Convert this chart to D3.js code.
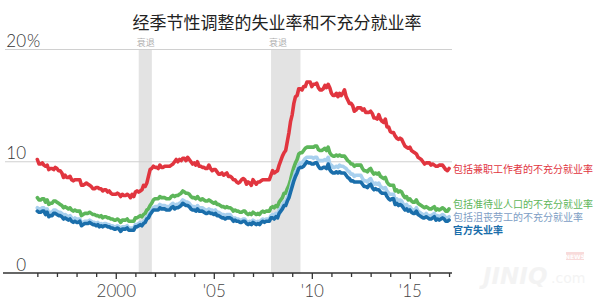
<!DOCTYPE html>
<html>
<head>
<meta charset="utf-8">
<script src="https://cdn.jsdelivr.net/npm/d3@7"></script>
<style>
  body { margin: 0; background: #fff; }
  svg { display: block; }
</style>
</head>
<body>
<script>
const width = 600;
const height = 308;

// monthly, Jan 1996 .. Jan 2017 (percent)
const startYear = 1996;

const u6 = [
  10.2,9.8,9.8,9.9,9.7,9.6,9.7,9.3,9.4,9.4,9.3,9.5,
  9.4,9.2,9.2,9.0,8.6,8.8,8.6,8.6,8.7,8.4,8.3,8.4,
  8.4,8.4,8.4,7.9,7.9,8.0,8.1,8.0,7.9,7.8,7.6,7.6,
  7.7,7.7,7.6,7.6,7.4,7.5,7.5,7.3,7.4,7.2,7.1,7.1,
  7.1,7.2,7.1,6.9,7.1,7.0,7.0,7.1,7.0,6.8,7.1,6.9,
  7.3,7.4,7.3,7.4,7.5,7.9,7.8,8.1,8.7,9.3,9.4,9.6,
  9.5,9.5,9.4,9.7,9.5,9.5,9.6,9.6,9.6,9.6,9.7,9.8,
  10.0,10.2,10.0,10.2,10.1,10.3,10.3,10.1,10.4,10.2,10.0,9.8,
  9.9,9.7,10.0,9.6,9.6,9.5,9.5,9.4,9.4,9.7,9.4,9.2,
  9.3,9.3,9.1,8.9,8.9,9.0,8.8,8.9,9.0,8.7,8.7,8.6,
  8.4,8.4,8.2,8.1,8.2,8.4,8.5,8.4,8.0,8.2,8.1,7.9,
  8.4,8.2,8.0,8.2,8.2,8.3,8.4,8.4,8.4,8.4,8.4,8.8,
  9.2,9.0,9.1,9.2,9.7,10.1,10.5,10.8,11.0,11.8,12.6,13.6,
  14.2,15.2,15.8,15.9,16.5,16.5,16.4,16.7,16.7,17.1,17.1,17.1,
  16.7,16.9,16.9,17.0,16.6,16.4,16.4,16.5,16.8,16.6,16.9,16.6,
  16.1,15.9,15.9,16.1,15.8,16.1,15.9,16.1,16.4,15.8,15.5,15.2,
  15.2,15.0,14.5,14.6,14.8,14.8,14.8,14.6,14.7,14.4,14.4,14.4,
  14.5,14.3,13.9,13.9,13.8,14.2,13.8,13.6,13.5,13.8,13.1,13.1,
  12.7,12.6,12.6,12.3,12.1,12.0,12.1,12.0,11.7,11.4,11.3,11.2,
  11.3,11.0,10.9,10.8,10.7,10.4,10.3,10.2,10.0,9.8,9.9,9.9,
  9.9,9.7,9.8,9.7,9.6,9.6,9.7,9.7,9.7,9.5,9.3,9.2,
  9.4
];

const u5 = [
  6.8,6.6,6.6,6.7,6.7,6.4,6.6,6.2,6.3,6.3,6.5,6.5,
  6.4,6.3,6.2,6.1,5.9,6.0,5.9,5.8,5.9,5.7,5.6,5.7,
  5.6,5.6,5.6,5.2,5.3,5.4,5.4,5.4,5.5,5.4,5.3,5.3,
  5.2,5.2,5.1,5.2,5.0,5.1,5.1,5.0,5.0,4.9,4.9,4.8,
  4.8,4.9,4.8,4.6,4.8,4.8,4.8,4.9,4.7,4.7,4.7,4.7,
  5.0,5.0,5.1,5.2,5.1,5.3,5.4,5.7,5.8,6.1,6.3,6.6,
  6.7,6.7,6.7,6.9,6.8,6.8,6.8,6.7,6.7,6.7,6.9,7.0,
  6.9,7.0,7.0,7.1,7.2,7.4,7.3,7.2,7.2,7.1,6.9,6.8,
  6.8,6.7,6.9,6.7,6.6,6.7,6.6,6.5,6.5,6.6,6.5,6.4,
  6.3,6.4,6.2,6.2,6.1,6.0,6.0,5.9,6.0,5.9,5.9,5.8,
  5.6,5.7,5.6,5.6,5.5,5.5,5.6,5.6,5.4,5.3,5.4,5.3,
  5.5,5.4,5.3,5.4,5.3,5.5,5.6,5.5,5.6,5.6,5.6,5.9,
  6.0,5.9,6.1,6.0,6.4,6.6,6.8,7.2,7.2,7.6,7.9,8.4,
  9.0,9.5,9.9,10.2,10.7,10.8,10.8,11.0,11.2,11.3,11.3,11.3,
  11.3,11.3,11.4,11.4,11.1,11.0,11.0,11.1,11.2,11.0,11.3,10.8,
  10.6,10.5,10.5,10.6,10.5,10.6,10.5,10.5,10.5,10.3,10.1,10.0,
  9.8,9.8,9.6,9.7,9.7,9.7,9.7,9.4,9.2,9.2,9.1,9.3,
  9.4,9.1,8.9,9.0,8.9,9.0,8.7,8.6,8.5,8.6,8.2,8.0,
  7.9,7.9,7.9,7.4,7.5,7.3,7.4,7.3,7.0,6.8,6.9,6.6,
  6.7,6.5,6.4,6.4,6.6,6.3,6.2,6.1,6.0,5.9,6.0,5.9,
  5.8,5.8,5.9,6.0,5.7,5.8,5.7,5.8,5.9,5.8,5.6,5.6,
  5.8
];

const u4 = [
  5.9,5.8,5.8,5.9,5.9,5.6,5.8,5.4,5.5,5.5,5.7,5.7,
  5.6,5.5,5.5,5.4,5.2,5.3,5.2,5.1,5.2,5.0,4.9,5.0,
  4.9,4.9,4.9,4.5,4.6,4.7,4.7,4.7,4.8,4.7,4.6,4.6,
  4.5,4.6,4.4,4.5,4.4,4.5,4.5,4.4,4.4,4.3,4.3,4.2,
  4.2,4.3,4.2,4.0,4.2,4.2,4.2,4.3,4.1,4.1,4.1,4.1,
  4.4,4.4,4.5,4.6,4.5,4.7,4.8,5.1,5.2,5.5,5.7,5.9,
  6.0,6.0,6.0,6.2,6.1,6.1,6.1,6.0,6.0,6.0,6.2,6.3,
  6.1,6.2,6.2,6.3,6.4,6.6,6.5,6.4,6.4,6.3,6.1,6.0,
  6.0,5.9,6.1,5.9,5.9,5.9,5.8,5.7,5.7,5.8,5.7,5.7,
  5.6,5.7,5.5,5.5,5.4,5.3,5.3,5.2,5.3,5.3,5.3,5.1,
  4.9,5.0,4.9,4.9,4.8,4.8,4.9,4.9,4.7,4.6,4.7,4.6,
  4.8,4.7,4.6,4.7,4.6,4.8,4.9,4.8,4.9,4.9,4.9,5.2,
  5.3,5.2,5.4,5.3,5.7,5.9,6.1,6.4,6.4,6.8,7.1,7.6,
  8.2,8.6,9.1,9.3,9.7,9.9,9.9,10.1,10.3,10.4,10.4,10.4,
  10.4,10.3,10.4,10.4,10.1,10.1,10.1,10.1,10.2,10.1,10.4,9.8,
  9.7,9.5,9.5,9.6,9.5,9.7,9.6,9.6,9.5,9.4,9.2,9.1,
  8.9,8.9,8.7,8.8,8.8,8.8,8.8,8.5,8.3,8.3,8.2,8.4,
  8.5,8.2,8.0,8.1,8.0,8.1,7.8,7.7,7.6,7.7,7.4,7.2,
  7.1,7.1,7.1,6.6,6.7,6.5,6.6,6.5,6.2,6.1,6.2,5.9,
  6.0,5.8,5.7,5.7,5.9,5.6,5.5,5.4,5.3,5.2,5.4,5.2,
  5.2,5.2,5.3,5.4,5.1,5.2,5.1,5.2,5.3,5.2,5.0,5.0,
  5.1
];

const u3 = [
  5.6,5.5,5.5,5.6,5.6,5.3,5.5,5.1,5.2,5.2,5.4,5.4,
  5.3,5.2,5.2,5.1,4.9,5.0,4.9,4.8,4.9,4.7,4.6,4.7,
  4.6,4.6,4.7,4.3,4.4,4.5,4.5,4.5,4.6,4.5,4.4,4.4,
  4.3,4.4,4.2,4.3,4.2,4.3,4.3,4.2,4.2,4.1,4.1,4.0,
  4.0,4.1,4.0,3.8,4.0,4.0,4.0,4.1,3.9,3.9,3.9,3.9,
  4.2,4.2,4.3,4.4,4.3,4.5,4.6,4.9,5.0,5.3,5.5,5.7,
  5.7,5.7,5.7,5.9,5.8,5.8,5.8,5.7,5.7,5.7,5.9,6.0,
  5.8,5.9,5.9,6.0,6.1,6.3,6.2,6.1,6.1,6.0,5.8,5.7,
  5.7,5.6,5.8,5.6,5.6,5.6,5.5,5.4,5.4,5.5,5.4,5.4,
  5.3,5.4,5.2,5.2,5.1,5.0,5.0,4.9,5.0,5.0,5.0,4.9,
  4.7,4.8,4.7,4.7,4.6,4.6,4.7,4.7,4.5,4.4,4.5,4.4,
  4.6,4.5,4.4,4.5,4.4,4.6,4.7,4.6,4.7,4.7,4.7,5.0,
  5.0,4.9,5.1,5.0,5.4,5.6,5.8,6.1,6.1,6.5,6.8,7.3,
  7.8,8.3,8.7,9.0,9.4,9.5,9.5,9.6,9.8,10.0,9.9,9.9,
  9.8,9.8,9.9,9.9,9.6,9.4,9.4,9.5,9.5,9.4,9.8,9.3,
  9.1,9.0,9.0,9.1,9.0,9.1,9.0,9.0,9.0,8.8,8.6,8.5,
  8.3,8.3,8.2,8.2,8.2,8.2,8.2,8.0,7.8,7.8,7.7,7.9,
  8.0,7.7,7.5,7.6,7.5,7.5,7.3,7.2,7.2,7.2,6.9,6.7,
  6.6,6.7,6.7,6.2,6.3,6.1,6.2,6.1,5.9,5.7,5.8,5.6,
  5.7,5.5,5.4,5.4,5.6,5.3,5.2,5.1,5.0,5.0,5.1,5.0,
  4.9,4.9,5.0,5.1,4.8,4.9,4.8,4.9,5.0,4.9,4.7,4.7,
  4.8
];

const seriesNames = [
  '包括兼职工作者的不充分就业率',
  '包括准待业人口的不充分就业率',
  '包括沮丧劳工的不充分就业率',
  '官方失业率'
];

const recessions = [[2001.17, 2001.84], [2007.92, 2009.42]];
const recessionLabel = '衰退';

const yTicks = [0, 10, 20];
const xTickYears = d3.range(1996, 2018);
const xLabels = { 2000: '2000', 2005: "'05", 2010: "'10", 2015: "'15" };

const cjk = '"Noto Sans CJK SC", "Noto Sans", sans-serif';
const num = 'Lato, "Open Sans", sans-serif';

const svg = d3.select('body').append('svg')
  .attr('width', width)
  .attr('height', height);

const x = d3.scaleLinear().domain([1994.35, 2017.15]).range([5, 452]);
const y = d3.scaleLinear().domain([0, 20]).range([274, 49.5]);

svg.append('text')
  .attr('x', 277).attr('y', 29)
  .attr('text-anchor', 'middle')
  .style('font-family', cjk)
  .style('font-size', '17px')
  .attr('fill', '#222')
  .text('经季节性调整的失业率和不充分就业率');

// recession bands
svg.append('g').selectAll('rect').data(recessions)
  .enter().append('rect')
  .attr('x', d => x(d[0]))
  .attr('width', d => x(d[1]) - x(d[0]))
  .attr('y', y(20))
  .attr('height', y(0) - y(20))
  .attr('fill', '#e3e3e3');

svg.append('g').selectAll('text').data(recessions)
  .enter().append('text')
  .attr('x', d => x(d[0]) - 2)
  .attr('y', 46)
  .style('font-family', cjk)
  .style('font-size', '9px')
  .attr('fill', '#b0b0b0')
  .text(recessionLabel);

// gridlines
svg.append('g').selectAll('line').data(yTicks.filter(d => d > 0))
  .enter().append('line')
  .attr('x1', 5).attr('x2', 452)
  .attr('y1', d => y(d)).attr('y2', d => y(d))
  .attr('stroke', '#d0d0d0')
  .attr('stroke-width', 1);

svg.append('g').selectAll('text').data(yTicks)
  .enter().append('text')
  .attr('x', 26)
  .attr('y', d => y(d) - 3)
  .attr('text-anchor', 'end')
  .style('font-family', num)
  .style('font-size', '17px')
  .style('font-weight', 300)
  .attr('fill', '#333')
  .text(d => d);

svg.append('text')
  .attr('x', 27).attr('y', y(20) - 3)
  .style('font-family', num)
  .style('font-size', '17px')
  .style('font-weight', 300)
  .attr('fill', '#333')
  .text('%');

// x axis
const xAxis = d3.axisBottom(x)
  .tickValues(xTickYears)
  .tickSize(0)
  .tickFormat(d => xLabels[d] || '');

const gx = svg.append('g')
  .attr('transform', `translate(0, ${y(0) - 1})`)
  .call(xAxis);
gx.select('.domain').attr('d', `M3,0H452`).attr('stroke', '#333').attr('stroke-width', 1.3);
gx.selectAll('.tick line')
  .attr('y2', d => (d % 5 === 0 ? 6 : 4))
  .attr('stroke', '#333')
  .attr('stroke-width', 1.3);
gx.selectAll('.tick text')
  .attr('y', 24)
  .attr('dy', 0)
  .style('font-family', num)
  .style('font-size', '17px')
  .style('font-weight', 300)
  .attr('fill', '#444');

// lines
const toPoints = arr => arr.map((v, i) => ({ t: startYear + i / 12, v: v }));
const line = d3.line().x(d => x(d.t)).y(d => y(d.v));

const series = [
  { data: u5, color: '#5db65a' },
  { data: u4, color: '#a8d0ee' },
  { data: u3, color: '#1a6eab' },
  { data: u6, color: '#e1353f' }
];

svg.append('g').selectAll('path').data(series)
  .enter().append('path')
  .attr('d', d => line(toPoints(d.data)))
  .attr('fill', 'none')
  .attr('stroke', d => d.color)
  .attr('stroke-width', 3.6)
  .attr('stroke-linejoin', 'round')
  .attr('stroke-linecap', 'round');

// series labels
const labelY = [169, 204.5, 217.5, 230];
const labelColor = ['#e1353f', '#5db65a', '#7d9dc4', '#1a6eab'];
svg.append('g').selectAll('text').data(seriesNames)
  .enter().append('text')
  .attr('x', 453)
  .attr('y', (d, i) => labelY[i] + 3.5)
  .style('font-family', cjk)
  .style('font-size', '10px')
  .style('font-weight', (d, i) => (i === 3 ? 700 : 400))
  .attr('fill', (d, i) => labelColor[i])
  .text(d => d);

// watermark
const wm = svg.append('g').attr('opacity', 0.45);
wm.append('text')
  .attr('x', 483).attr('y', 284)
  .style('font-family', '"DejaVu Sans", sans-serif')
  .style('font-size', '23px')
  .style('font-weight', 700)
  .style('font-style', 'italic')
  .attr('fill', '#e6e6e6')
  .text('JINIQ');
wm.append('text')
  .attr('x', 551).attr('y', 283)
  .style('font-family', '"DejaVu Sans", sans-serif')
  .style('font-size', '14px')
  .attr('fill', '#e6e6e6')
  .text('.com');
wm.append('rect')
  .attr('x', 566).attr('y', 252).attr('width', 18).attr('height', 8)
  .attr('fill', '#f0b0b0');
wm.append('text')
  .attr('x', 575).attr('y', 259)
  .attr('text-anchor', 'middle')
  .style('font-family', '"DejaVu Sans", sans-serif')
  .style('font-size', '6px')
  .style('font-weight', 700)
  .attr('fill', '#fff')
  .text('NEWS');
</script>
</body>
</html>
